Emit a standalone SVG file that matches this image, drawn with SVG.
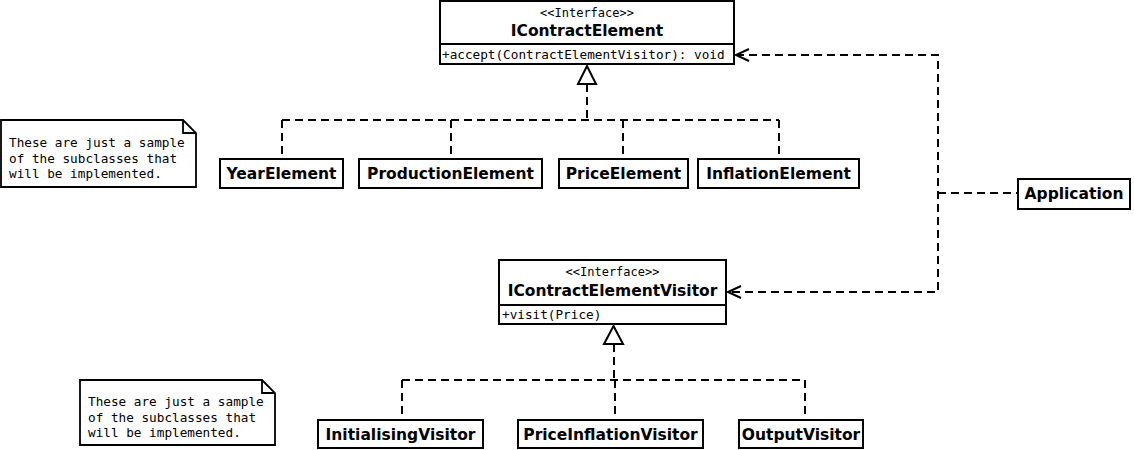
<svg xmlns="http://www.w3.org/2000/svg" width="1134" height="450" viewBox="0 0 1134 450">
<style>
.box{fill:#fff;stroke:#000;stroke-width:2}
.name{font-family:"DejaVu Sans",sans-serif;font-weight:bold;font-size:15.5px;fill:#000}
.mono{font-family:"DejaVu Sans Mono",monospace;font-size:12.7px;fill:#000}
.st{font-family:"DejaVu Sans Mono",monospace;font-size:12px;fill:#000}
.dash{fill:none;stroke:#000;stroke-width:2;stroke-dasharray:8,5}
.solid{fill:none;stroke:#000;stroke-width:2}
.tri{fill:#fff;stroke:#000;stroke-width:2}
.note{fill:#fff;stroke:#000;stroke-width:1.8}
</style>
<rect width="1134" height="450" fill="#fff"/>
<g id="connectors">
  <path class="dash" d="M587,84 V120 M282,120 H779 M282,120 V159 M451,120 V159 M623,120 V159 M779,120 V159"/>
  <polygon class="tri" points="587,66 578,84 596,84"/>
  <path class="dash" d="M614,344 V380 M402,380 H805 M402,380 V420 M615,380 V420 M805,380 V420"/>
  <polygon class="tri" points="613.5,326 604,344 623,344"/>
  <path class="dash" d="M736,55 H938 V292 H728 M938,193 H1018"/>
  <path class="solid" d="M749,49 L736,55 L749,61"/>
  <path class="solid" d="M741,286 L728,292 L741,298"/>
</g>
<g id="IContractElement">
  <rect class="box" x="440" y="1" width="294" height="63"/>
  <line class="solid" x1="440" y1="44" x2="734" y2="44"/>
  <text class="st" x="587" y="17" text-anchor="middle">&lt;&lt;Interface&gt;&gt;</text>
  <text class="name" x="587" y="36" text-anchor="middle">IContractElement</text>
  <text class="mono" x="442" y="59">+accept(ContractElementVisitor): void</text>
</g>
<g id="note1">
  <path class="note" d="M1,120 H183 L196,133 V187 H1 Z M183,120 V133 H196"/>
  <text class="mono" x="9" y="147">These are just a sample</text>
  <text class="mono" x="9" y="162.5">of the subclasses that</text>
  <text class="mono" x="9" y="178">will be implemented.</text>
</g>
<g id="YearElement">
  <rect class="box" x="220" y="159" width="123" height="29"/>
  <text class="name" x="281.5" y="179" text-anchor="middle">YearElement</text>
</g>
<g id="ProductionElement">
  <rect class="box" x="359" y="159" width="183" height="29"/>
  <text class="name" x="450.5" y="179" text-anchor="middle">ProductionElement</text>
</g>
<g id="PriceElement">
  <rect class="box" x="559" y="159" width="129" height="29"/>
  <text class="name" x="623.5" y="179" text-anchor="middle">PriceElement</text>
</g>
<g id="InflationElement">
  <rect class="box" x="698" y="159" width="161" height="29"/>
  <text class="name" x="778.5" y="179" text-anchor="middle">InflationElement</text>
</g>
<g id="Application">
  <rect class="box" x="1018" y="179" width="112" height="30"/>
  <text class="name" x="1074" y="199" text-anchor="middle">Application</text>
</g>
<g id="IContractElementVisitor">
  <rect class="box" x="499" y="260" width="227" height="64"/>
  <line class="solid" x1="499" y1="305" x2="726" y2="305"/>
  <text class="st" x="612.5" y="276" text-anchor="middle">&lt;&lt;Interface&gt;&gt;</text>
  <text class="name" x="612.5" y="296" text-anchor="middle">IContractElementVisitor</text>
  <text class="mono" x="502" y="319">+visit(Price)</text>
</g>
<g id="note2">
  <path class="note" d="M80,380 H262 L275,393 V445 H80 Z M262,380 V393 H275"/>
  <text class="mono" x="88" y="406">These are just a sample</text>
  <text class="mono" x="88" y="421.5">of the subclasses that</text>
  <text class="mono" x="88" y="437">will be implemented.</text>
</g>
<g id="InitialisingVisitor">
  <rect class="box" x="318" y="420" width="165" height="28"/>
  <text class="name" x="400.5" y="440" text-anchor="middle">InitialisingVisitor</text>
</g>
<g id="PriceInflationVisitor">
  <rect class="box" x="518" y="420" width="185" height="28"/>
  <text class="name" x="610.5" y="440" text-anchor="middle">PriceInflationVisitor</text>
</g>
<g id="OutputVisitor">
  <rect class="box" x="739" y="420" width="124" height="28"/>
  <text class="name" x="801" y="440" text-anchor="middle">OutputVisitor</text>
</g>
</svg>
